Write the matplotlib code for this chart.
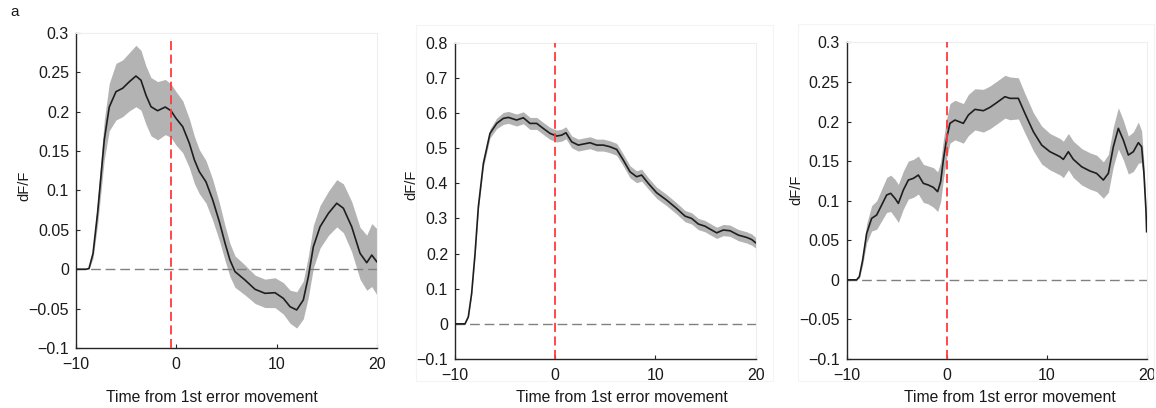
import numpy as np
import matplotlib.pyplot as plt
from matplotlib.ticker import FuncFormatter, MultipleLocator
from matplotlib.patches import Rectangle

plt.rcParams['font.family'] = ['Liberation Sans', 'DejaVu Sans']

# panel 1
t1 = [-10, -9, -8.7, -8.3, -7.84, -7.18, -6.68, -6.01, -5.35, -4.69,
      -4.02, -3.52, -3.02, -2.52, -1.86, -1.1, -0.53, -0.03, 0.64, 1.30,
      1.80, 2.29, 2.96, 3.63, 4.3, 4.86, 5.35, 5.85, 6.85, 7.85,
      8.84, 9.84, 10.67, 11.34, 12.0, 12.66, 13.16, 13.66, 14.33, 15.16,
      15.99, 16.65, 17.48, 18.31, 18.98, 19.48, 19.98]
m1 = [0, 0, 0.001, 0.02, 0.072, 0.164, 0.206, 0.2255, 0.2298, 0.238,
      0.2454, 0.240, 0.221, 0.2064, 0.2013, 0.206, 0.2013, 0.1917, 0.181, 0.160,
      0.139, 0.124, 0.111, 0.088, 0.06, 0.033, 0.0117, -0.003, -0.0137, -0.0255,
      -0.0306, -0.0298, -0.037, -0.0476, -0.0517, -0.039, -0.0095, 0.0286, 0.054, 0.071,
      0.0838, 0.0775, 0.054, 0.0203, 0.0083, 0.018, 0.0096]
s1 = [0, 0, 0.001, 0.006, 0.015, 0.025, 0.03, 0.036, 0.036, 0.037,
      0.039, 0.038, 0.037, 0.037, 0.037, 0.035, 0.034, 0.034, 0.033, 0.031,
      0.03, 0.028, 0.027, 0.026, 0.024, 0.022, 0.021, 0.02, 0.019, 0.018,
      0.018, 0.019, 0.02, 0.021, 0.023, 0.024, 0.026, 0.027, 0.027, 0.028,
      0.03, 0.031, 0.032, 0.033, 0.035, 0.04, 0.042]
event1 = -0.5

# panel 2
t2 = [-10, -9.0, -8.67, -8.34, -8.0, -7.67, -7.17, -6.51, -5.84, -5.18,
      -4.68, -3.85, -3.18, -2.52, -1.85, -1.19, -0.52, 0.14, 0.64, 1.07,
      1.64, 2.30, 2.80, 3.47, 4.13, 4.80, 5.46, 6.13, 6.79, 7.46,
      8.12, 8.62, 9.29, 10.12, 11.12, 12.11, 12.95, 13.61, 14.28, 14.94,
      15.61, 16.11, 16.77, 17.44, 18.27, 19.10, 19.60, 20.0]
m2 = [0, 0, 0.0201, 0.0865, 0.2, 0.333, 0.4565, 0.542, 0.5704, 0.5846,
      0.5875, 0.580, 0.5865, 0.5704, 0.5704, 0.556, 0.542, 0.5344, 0.537, 0.5438,
      0.518, 0.5087, 0.5116, 0.5154, 0.5087, 0.5087, 0.504, 0.4964, 0.466, 0.4328,
      0.4186, 0.4233, 0.3996, 0.373, 0.352, 0.3285, 0.3066, 0.30, 0.284, 0.278,
      0.267, 0.259, 0.267, 0.265, 0.2526, 0.246, 0.240, 0.2307]
s2 = [0, 0, 0.002, 0.004, 0.007, 0.009, 0.011, 0.013, 0.015, 0.017,
      0.017, 0.017, 0.017, 0.017, 0.017, 0.017, 0.017, 0.017, 0.017, 0.017,
      0.017, 0.017, 0.017, 0.017, 0.017, 0.017, 0.017, 0.017, 0.017, 0.017,
      0.017, 0.017, 0.016, 0.016, 0.016, 0.016, 0.016, 0.016, 0.016, 0.016,
      0.016, 0.016, 0.016, 0.016, 0.016, 0.016, 0.016, 0.015]
event2 = 0

# panel 3
t3 = [-10, -9, -8.73, -8.4, -8, -7.5, -7, -6.5, -6, -5.6,
      -5.17, -4.83, -4.33, -3.83, -3.33, -2.83, -2.33, -1.83, -1.33, -0.9,
      -0.6, -0.33, 0, 0.33, 0.83, 1.67, 2.17, 2.83, 3.67, 4.33,
      5, 5.83, 6.33, 7.17, 7.83, 8.67, 9.5, 10.33, 11.33, 11.67,
      12.17, 12.67, 13.5, 14.33, 15, 15.67, 16.17, 16.67, 17.17, 17.67,
      18.17, 18.67, 19.17, 19.5, 19.73, 19.93, 20]
m3 = [0, 0, 0.0042, 0.025, 0.0587, 0.0777, 0.0819, 0.0945, 0.1072, 0.1093,
      0.103, 0.0966, 0.1135, 0.1261, 0.1282, 0.1324, 0.1219, 0.1198, 0.1168, 0.1114,
      0.124, 0.1514, 0.1787, 0.1977, 0.2019, 0.1977, 0.2082, 0.2154, 0.2137, 0.2179,
      0.2238, 0.2314, 0.2293, 0.2293, 0.2103, 0.1872, 0.1703, 0.1619, 0.1556, 0.1522,
      0.1619, 0.1522, 0.1429, 0.1375, 0.1345, 0.1261, 0.1345, 0.1682, 0.1914, 0.1766,
      0.1577, 0.1619, 0.1733, 0.1682, 0.1345, 0.0882, 0.0608]
s3 = [0, 0, 0.002, 0.006, 0.012, 0.016, 0.018, 0.02, 0.022, 0.023,
      0.024, 0.024, 0.024, 0.024, 0.024, 0.024, 0.024, 0.024, 0.025, 0.025,
      0.025, 0.025, 0.025, 0.025, 0.025, 0.025, 0.026, 0.026, 0.027, 0.027,
      0.027, 0.027, 0.027, 0.026, 0.025, 0.024, 0.024, 0.023, 0.023, 0.023,
      0.023, 0.023, 0.023, 0.023, 0.023, 0.023, 0.024, 0.025, 0.026, 0.025,
      0.024, 0.025, 0.026, 0.02, 0.012, 0.005, 0.002]
event3 = 0

panels = [
    (t1, m1, s1, event1, (-0.1, 0.3), 0.05, 0.983),
    (t2, m2, s2, event2, (-0.1, 0.8), 0.1, 1.0),
    (t3, m3, s3, event3, (-0.1, 0.3), 0.05, 1.0),
]
# axes rectangles in figure fractions
rects = [
    [0.0657, 0.1471, 0.2604, 0.772],
    [0.3936, 0.1201, 0.2601, 0.7752],
    [0.7324, 0.1201, 0.2595, 0.776],
]
xlab_pos = [(0.1834, 0.025), (0.5378, 0.025), (0.8737, 0.025)]
ylab_pos = [(0.021, 0.545), (0.3555, 0.547), (0.6885, 0.535)]

fig = plt.figure(figsize=(11.56, 4.08), dpi=100)

# faint panel frames
for r in [(0.3599, 0.067, 0.309, 0.872), (0.6903, 0.067, 0.308, 0.874)]:
    fig.patches.append(Rectangle((r[0], r[1]), r[2], r[3], transform=fig.transFigure,
                                 fill=False, edgecolor='#f4f4f4', linewidth=0.8))

fmt = FuncFormatter(lambda v, p: ('%g' % round(v, 3)).replace('-', '\u2212'))

for i, (t, m, s, ev, ylim, ystep, ytop) in enumerate(panels):
    ax = fig.add_axes(rects[i])
    t = np.array(t)
    m = np.array(m)
    s = np.array(s)
    ax.fill_between(t, m - s, m + s, color='#b3b3b3', linewidth=0, zorder=1)
    ax.plot(t, m, color='#1e1e1e', linewidth=1.2, zorder=3)
    ax.axhline(0, color='#808080', linewidth=1.0, dashes=(7, 3.5), zorder=2)
    ax.axvline(ev, ymax=ytop, color='#ff3a3a', linewidth=1.3, dashes=(5, 2.5), zorder=4)
    ax.set_xlim(-10, 20)
    ax.set_ylim(*ylim)
    ax.xaxis.set_major_locator(MultipleLocator(10))
    ax.yaxis.set_major_locator(MultipleLocator(ystep))
    ax.xaxis.set_major_formatter(fmt)
    ax.yaxis.set_major_formatter(fmt)
    ax.tick_params(direction='in', length=3, width=0.8, color='#262626',
                   labelsize=11.5, labelcolor='#1a1a1a')
    ax.tick_params(axis='x', pad=6.5)
    ax.tick_params(axis='y', pad=5)
    for side in ['left', 'bottom']:
        ax.spines[side].set_color('#262626')
        ax.spines[side].set_linewidth(1.0)
    for side in ['top', 'right']:
        ax.spines[side].set_color('#eeeeee')
        ax.spines[side].set_linewidth(0.8)
    fig.text(xlab_pos[i][0], xlab_pos[i][1], 'Time from 1st error movement',
             ha='center', va='center', fontsize=11.3, color='#1a1a1a')
    fig.text(ylab_pos[i][0], ylab_pos[i][1], 'dF/F', rotation=90,
             ha='center', va='center', fontsize=10.5, color='#1a1a1a')

fig.text(0.009, 0.97, 'a', ha='left', va='center', fontsize=11, color='#1a1a1a')

fig.savefig('out.png', dpi=100)
